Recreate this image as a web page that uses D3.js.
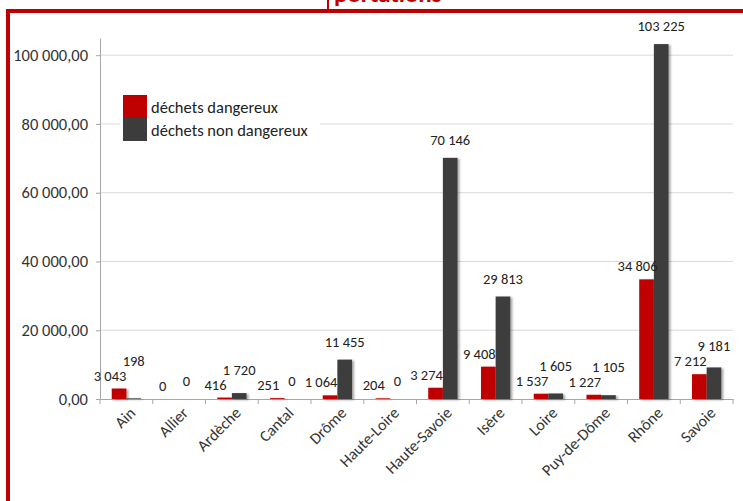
<!DOCTYPE html>
<html>
<head>
<meta charset="utf-8">
<script src="https://cdn.jsdelivr.net/npm/d3@7"></script>
<style>
  body { margin: 0; background: #fff; }
  svg { display: block; }
  text { font-family: Carlito, Calibri, Lato, sans-serif; }
</style>
</head>
<body>
<svg id="chart"></svg>
<script>

////////////////////////////////////////////////////////////////////////
// Data

let departements = ["Ain", "Allier", "Ardèche", "Cantal", "Drôme", "Haute-Loire",
                    "Haute-Savoie", "Isère", "Loire", "Puy-de-Dôme", "Rhône", "Savoie"];
let dangereux    = [3043, 0, 416, 251, 1064, 204, 3274, 9408, 1537, 1227, 34806, 7212];
let nonDangereux = [198, 0, 1720, 0, 11455, 0, 70146, 29813, 1605, 1105, 103225, 9181];
let seriesNames  = ["déchets dangereux", "déchets non dangereux"];
let yTicks       = [0, 20000, 40000, 60000, 80000, 100000];
let titleTail    = "portations";



////////////////////////////////////////////////////////////////////////
// Setup

let width = 743, height = 501;
let red = "#c00000", dark = "#3c3c3c";

let svg = d3.select("#chart")
            .attr("width", width)
            .attr("height", height);

// french number format: "100 000,00" and "3 043"
let fr = d3.formatLocale({decimal: ",", thousands: " ", grouping: [3], currency: ["", " €"]});
let fmtTick = fr.format(",.2f");
let fmtLabel = fr.format(",d");

let x = d3.scaleBand()
          .domain(departements)
          .range([100, 733]);

let xs = d3.scaleBand()
           .domain([0, 1])
           .range([0, x.bandwidth()])
           .paddingOuter(0.8);

let y = d3.scaleLinear()
          .domain([0, 105000])
          .range([399, 38]);

let defs = svg.append("defs");
defs.append("filter").attr("id", "shadow")
    .attr("x", "-20%").attr("y", "-20%").attr("width", "160%").attr("height", "140%")
    .append("feDropShadow")
    .attr("dx", 2).attr("dy", 1).attr("stdDeviation", 1.2)
    .attr("flood-color", "#000").attr("flood-opacity", 0.35);



////////////////////////////////////////////////////////////////////////
// Frame and (cut off) title

svg.append("path")
   .attr("d", "M8," + height + " V11 H" + width)
   .attr("fill", "none")
   .attr("stroke", red)
   .attr("stroke-width", 4);

svg.append("line")
   .attr("x1", 328).attr("x2", 328)
   .attr("y1", 0).attr("y2", 10)
   .attr("stroke", red).attr("stroke-width", 2);

svg.append("text")
   .attr("x", 334).attr("y", 2)
   .attr("fill", red)
   .attr("font-size", 25)
   .attr("font-weight", "bold")
   .text(titleTail);



////////////////////////////////////////////////////////////////////////
// Grid and axes

svg.append("g")
   .selectAll("line")
   .data(yTicks.filter(d => d > 0))
   .enter().append("line")
   .attr("x1", 100).attr("x2", 733)
   .attr("y1", d => y(d)).attr("y2", d => y(d))
   .attr("stroke", "#d9d9d9");

let yAxis = svg.append("g")
               .attr("transform", "translate(100,0)")
               .call(d3.axisLeft(y).tickValues(yTicks).tickSize(4).tickSizeOuter(0).tickPadding(8).tickFormat(fmtTick));
yAxis.select(".domain").attr("stroke", "#a6a6a6");
yAxis.selectAll(".tick line").attr("stroke", "#a6a6a6");
yAxis.selectAll("text").attr("font-size", 16.5).attr("fill", "#333");

let xAxis = svg.append("g")
               .attr("transform", "translate(0," + y(0) + ")")
               .call(d3.axisBottom(x).tickSize(0).tickSizeOuter(0));
xAxis.select(".domain").attr("stroke", "#a6a6a6");
xAxis.selectAll("text")
     .attr("x", 0).attr("y", 0).attr("dy", "0.35em")
     .attr("transform", "translate(6,11) rotate(-45)")
     .style("text-anchor", "end")
     .attr("font-size", 16)
     .attr("fill", "#333");

// ticks between categories
xAxis.append("g")
     .selectAll("line")
     .data(departements.map(d => x(d)).concat([x.range()[1]]))
     .enter().append("line")
     .attr("x1", d => d).attr("x2", d => d)
     .attr("y1", 0).attr("y2", 5)
     .attr("stroke", "#a6a6a6");



////////////////////////////////////////////////////////////////////////
// Bars

let series = [dangereux, nonDangereux];
let colors = [red, dark];

series.forEach(function(values, s) {
  svg.append("g")
     .attr("filter", "url(#shadow)")
     .selectAll("rect")
     .data(values)
     .enter().append("rect")
     .attr("x", (v, i) => x(departements[i]) + xs(s))
     .attr("width", xs.bandwidth())
     .attr("y", v => y(v))
     .attr("height", v => y(0) - y(v))
     .attr("fill", colors[s]);
});



////////////////////////////////////////////////////////////////////////
// Data labels: red a bit to the left, dark one lifted when they collide

let labelG = svg.append("g")
                .attr("font-size", 14.5)
                .attr("fill", "#222")
                .attr("text-anchor", "middle");

departements.forEach(function(d, i) {
  let rx = x(d) + xs(0) + xs.bandwidth() / 2 - 9;
  let ry = y(dangereux[i]) - 13;
  let tr = labelG.append("text")
                 .attr("x", rx).attr("y", ry).attr("dy", "0.35em")
                 .text(fmtLabel(dangereux[i]));

  let dx = x(d) + xs(1) + xs.bandwidth() / 2;
  let dy = y(nonDangereux[i]) - 18;
  let td = labelG.append("text")
                 .attr("x", dx).attr("dy", "0.35em")
                 .text(fmtLabel(nonDangereux[i]));

  let wr = tr.node().getComputedTextLength();
  let wd = td.node().getComputedTextLength();
  if (Math.abs(dx - rx) < (wr + wd) / 2 && dy > ry - 15) {
    dy = ry - 15;
  }
  td.attr("y", dy);
});



////////////////////////////////////////////////////////////////////////
// Legend

let legend = svg.append("g");
legend.append("rect")
      .attr("x", 120).attr("y", 92)
      .attr("width", 200).attr("height", 52)
      .attr("fill", "#fff");

let legendRows = legend.selectAll("g.row")
                       .data(seriesNames)
                       .enter().append("g")
                       .attr("class", "row")
                       .attr("transform", (d, i) => "translate(123," + (95 + i * 23) + ")");

legendRows.append("rect")
          .attr("width", 24).attr("height", 23)
          .attr("fill", (d, i) => colors[i]);

legendRows.append("text")
          .attr("x", 28).attr("y", 12).attr("dy", "0.35em")
          .attr("font-size", 16.5)
          .attr("fill", "#222")
          .text(d => d);

</script>
</body>
</html>
